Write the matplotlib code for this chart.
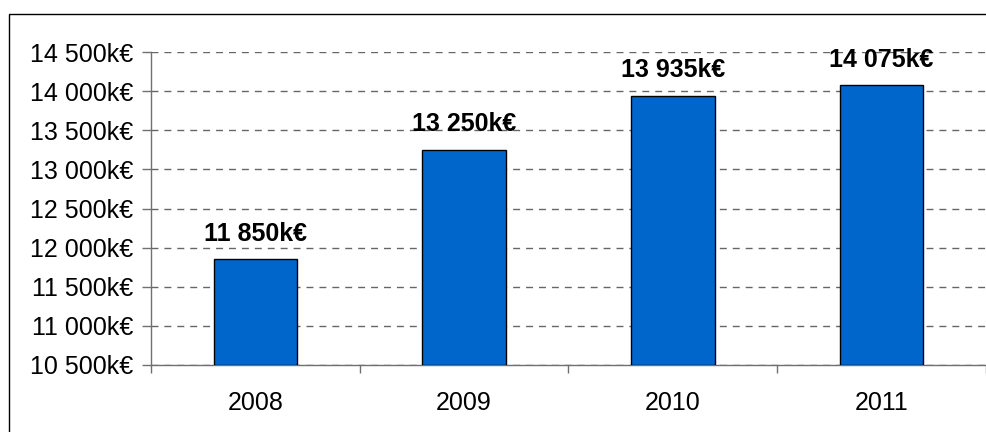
import matplotlib
matplotlib.use("Agg")
import matplotlib.pyplot as plt
import matplotlib.patches as mpatches
from matplotlib.ticker import FuncFormatter, FixedLocator

plt.rcParams["font.family"] = ["Liberation Sans", "DejaVu Sans"]

# data
years = ["2008", "2009", "2010", "2011"]
revenue_k = [11850, 13250, 13935, 14075]
y_ticks = [10500, 11000, 11500, 12000, 12500, 13000, 13500, 14000, 14500]

BAR_COLOR = "#0066CC"
GRID_COLOR = "#666666"
AXIS_COLOR = "#707070"


def fmt_k(v, pos=None):
    return f"{v:,.0f}".replace(",", " ") + "k€"


W, H = 987, 432
fig = plt.figure(figsize=(W / 100, H / 100), dpi=100)
fig.patch.set_facecolor("white")

# axes placed in pixel terms
left, right, top, bottom = 151, 986, 52, 365
ax = fig.add_axes([left / W, 1 - bottom / H, (right - left) / W, (bottom - top) / H])

x = list(range(len(years)))
ax.bar(x, [v - y_ticks[0] for v in revenue_k], bottom=y_ticks[0], width=0.4,
       color=BAR_COLOR, edgecolor="black", linewidth=1.0, zorder=3)

for xi, v in zip(x, revenue_k):
    ax.annotate(fmt_k(v), (xi, v), xytext=(0, 13.5), textcoords="offset points",
                ha="center", va="baseline", fontsize=18, fontweight="bold",
                color="black", zorder=5)

ax.set_xlim(-0.5, len(years) - 0.5)
ax.set_ylim(y_ticks[0], y_ticks[-1])
ax.set_yticks(y_ticks)
ax.yaxis.set_major_formatter(FuncFormatter(fmt_k))

# category boundaries as major ticks, year labels on minor ticks
ax.xaxis.set_major_locator(FixedLocator([i - 0.5 for i in range(len(years) + 1)]))
ax.xaxis.set_major_formatter(FuncFormatter(lambda v, p: ""))
ax.xaxis.set_minor_locator(FixedLocator(x))
ax.set_xticklabels(years, minor=True)
ax.tick_params(axis="x", which="minor", length=0, pad=19, labelsize=18)
ax.tick_params(axis="x", which="major", length=6, width=1, color=AXIS_COLOR,
               direction="out")
ax.tick_params(axis="y", length=6.5, width=1, color=AXIS_COLOR, direction="out",
               pad=6.5, labelsize=18)

ax.yaxis.grid(True, color=GRID_COLOR, linewidth=1.0, linestyle=(0, (5, 4.3)), zorder=0)
ax.set_axisbelow(True)

for side in ["top", "right"]:
    ax.spines[side].set_visible(False)
for side in ["left", "bottom"]:
    ax.spines[side].set_color(AXIS_COLOR)
    ax.spines[side].set_linewidth(1.0)

# outer chart frame (right and bottom edges fall outside the image)
frame = mpatches.Rectangle((9 / W, -0.2), 1.2, 1.2 - 14 / H,
                           transform=fig.transFigure, fill=False,
                           edgecolor="black", linewidth=1.0)
fig.patches.append(frame)

fig.savefig("out.png", dpi=100)
